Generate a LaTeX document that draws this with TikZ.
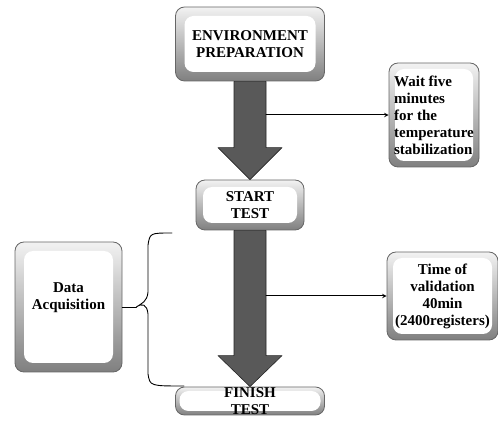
\documentclass[tikz,border=0pt]{standalone}
\usepackage{fontspec}
\setmainfont{Liberation Serif}
\usetikzlibrary{calc}

\begin{document}
\begin{tikzpicture}[x=1pt,y=-1pt,>=stealth,line join=round,line cap=round,
	font=\rmfamily\fontsize{15}{17}\selectfont\bfseries,
	box/.style={draw=black!60,line width=0.8pt,rounded corners=9pt,top color=black!5,bottom color=black!50,
		inner sep=0pt,align=center,
		path picture={\fill[white] ([shift={(#1,#1)}]path picture bounding box.south west)
			rectangle ([shift={(-#1,-#1)}]path picture bounding box.north east);}},
	box/.default=9pt,
	bigarrow/.style={fill=black!65,draw=black!85,line width=0.6pt},
	link/.style={->,line width=1pt}]
	\def \sw{16} \def \hw{32}
	\useasboundingbox (0,0) rectangle (498,427);
	\node[box,minimum width=149,minimum height=74] (env) at (250,44) {ENVIRONMENT\\PREPARATION};
	\node[box=7pt,minimum width=108,minimum height=50] (start) at (250,205) {START\\TEST};
	\node[box=4pt,minimum width=149,minimum height=28] (finish) at (250,401) {FINISH\\TEST};
	\node[box=6pt,minimum width=90,minimum height=104,align=left] (wait) at (434,115) {Wait five\\minutes\\for the\\temperature\\stabilization};
	\node[box=6pt,minimum width=111,minimum height=88] (valid) at (442.5,296) {Time of\\validation\\40min\\(2400registers)};
	\node[box,minimum width=107,minimum height=130] (daq) at (68.5,307) {Data\\Acquisition\\[4pt]};
	\draw[bigarrow] ($(env.south)+(-\sw,0)$) -- ($(env.south)+(\sw,0)$) -- ($(start.north)+(\sw,-32)$)
		-- ($(start.north)+(\hw,-32)$) -- (start.north) -- ($(start.north)+(-\hw,-32)$) -- ($(start.north)+(-\sw,-32)$) -- cycle;
	\draw[bigarrow] ($(start.south)+(-\sw,0)$) -- ($(start.south)+(\sw,0)$) -- ($(finish.north)+(\sw,-31)$)
		-- ($(finish.north)+(\hw,-31)$) -- (finish.north) -- ($(finish.north)+(-\hw,-31)$) -- ($(finish.north)+(-\sw,-31)$) -- cycle;
	\coordinate (s1) at ($(env.south)+(\sw,0)$);
	\coordinate (s2) at ($(start.south)+(\sw,0)$);
	\draw[link] (s1 |- wait.west) -- (wait.west);
	\draw[link] (s2 |- valid.west) -- (valid.west);
	\draw[line width=0.9pt] (daq.east) -- ++(14,0) coordinate (bm);
	\draw[line width=0.9pt] (172,233) .. controls (150,233) .. (148,245) -- (148,292)
		.. controls (147,302) and (142,303) .. (bm) .. controls (142,303) and (147,304) .. (148,314)
		-- (148,374) .. controls (150,386) .. (184,386);
\end{tikzpicture}
\end{document}
